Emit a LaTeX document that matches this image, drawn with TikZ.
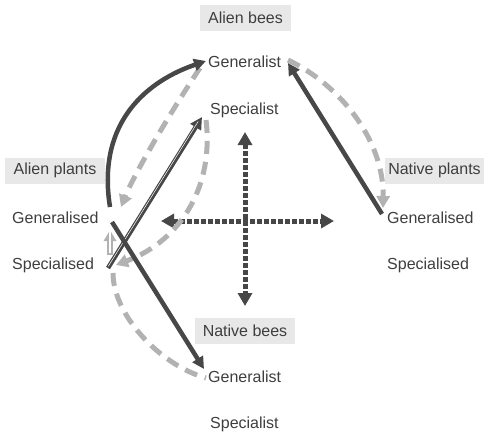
\documentclass[tikz,border=0pt]{standalone}
\usepackage{fontspec}
\setmainfont{Liberation Sans}
\usetikzlibrary{arrows.meta}
\definecolor{txt}{HTML}{3E3E3E}
\definecolor{dk}{HTML}{474747}
\definecolor{lt}{HTML}{B2B2B2}
\definecolor{boxfill}{HTML}{E8E8E8}
\tikzset{
  lbl/.style={anchor=west,inner sep=1pt,text=txt,font=\fontsize{16pt}{18pt}\selectfont},
  grp/.style={fill=boxfill,text=txt,inner sep=0pt,minimum height=26pt,font=\fontsize{16pt}{18pt}\selectfont},
  dkarrow/.style={draw=dk,line width=4.5pt,-{Triangle[length=12pt,width=12pt]}},
  ltdash/.style={draw=lt,line width=5pt,dash pattern=on 13pt off 8pt},
  ltarrow/.style={ltdash,-{Triangle[length=12pt,width=13pt]}},
  dotline/.style={draw=dk,line width=5pt,dash pattern=on 4.5pt off 2.5pt,{Triangle[length=13pt,width=14pt]}-{Triangle[length=13pt,width=14pt]}}
}
\begin{document}
\begin{tikzpicture}[x=1pt,y=-1pt]
\useasboundingbox (0,0) rectangle (484,437);
% group labels
\node[grp,minimum width=91pt] (ab) at (245.5,18) {Alien bees};
\node[grp,minimum width=100pt] (ap) at (55,170.5) {Alien plants};
\node[grp,minimum width=99pt] (np) at (434.5,170.5) {Native plants};
\node[grp,minimum width=100pt] (nb) at (245,330.5) {Native bees};
% item labels
\node[lbl] (ag) at (207,62) {Generalist};
\node[lbl] (as) at (209,110) {Specialist};
\node[lbl] (lg) at (11,218) {Generalised};
\node[lbl] (ls) at (11,265) {Specialised};
\node[lbl] (rg) at (386,218) {Generalised};
\node[lbl] (rs) at (386,265) {Specialised};
\node[lbl] (ng) at (207,377) {Generalist};
\node[lbl] (ns) at (209,424) {Specialist};
% cross ends
\coordinate (ct) at (245,132);
\coordinate (cb) at (245,306);
\coordinate (cl) at (161,221);
\coordinate (cr) at (334,221);
% dotted cross
\draw[dotline] (ct) -- (cb);
\draw[dotline] (cl) -- (cr);
% gray dashed connectors
\draw[ltarrow] ([shift={(-7,6)}]ag.west) .. controls (175,105) and (135,172) .. ([shift={(110,-11)}]lg.west);
\draw[ltarrow] ([shift={(-3,10)}]as.west) .. controls (214,185) and (182,240) .. ([shift={(105,0)}]ls.west);
\draw[ltdash] ([shift={(102,8)}]ls.west) .. controls (113,315) and (160,365) .. ([shift={(-1,1)}]ng.west);
\draw[ltarrow] ([shift={(81,-2)}]ag.west) .. controls (340,85) and (384,140) .. ([shift={(-3,-10)}]rg.west);
% light short upward arrow
\draw[draw=lt,line width=6.5pt,-{Triangle[length=11pt,width=12pt]}] ([shift={(99,-10)}]ls.west) -- ([shift={(99,12)}]lg.west);
\draw[draw=white,line width=1.2pt] ([shift={(99,-12)}]ls.west) -- ([shift={(99,8)}]lg.west);
% dark solid connectors
\draw[dkarrow] ([shift={(99,-11)}]lg.west) .. controls (96,120) and (150,80) .. ([shift={(-1,-1)}]ag.west);
\draw[dkarrow] ([shift={(97,3)}]ls.west) -- ([shift={(-7,7)}]as.west);
\draw[draw=white,line width=0.5pt] ([shift={(97.2,1.4)}]ls.west) -- ([shift={(-10.8,11.4)}]as.west);
\draw[dkarrow] ([shift={(101,4)}]lg.west) -- ([shift={(-3,-8)}]ng.west);
\draw[dkarrow] ([shift={(-4,-4)}]rg.west) -- ([shift={(81,1)}]ag.west);
\end{tikzpicture}
\end{document}
